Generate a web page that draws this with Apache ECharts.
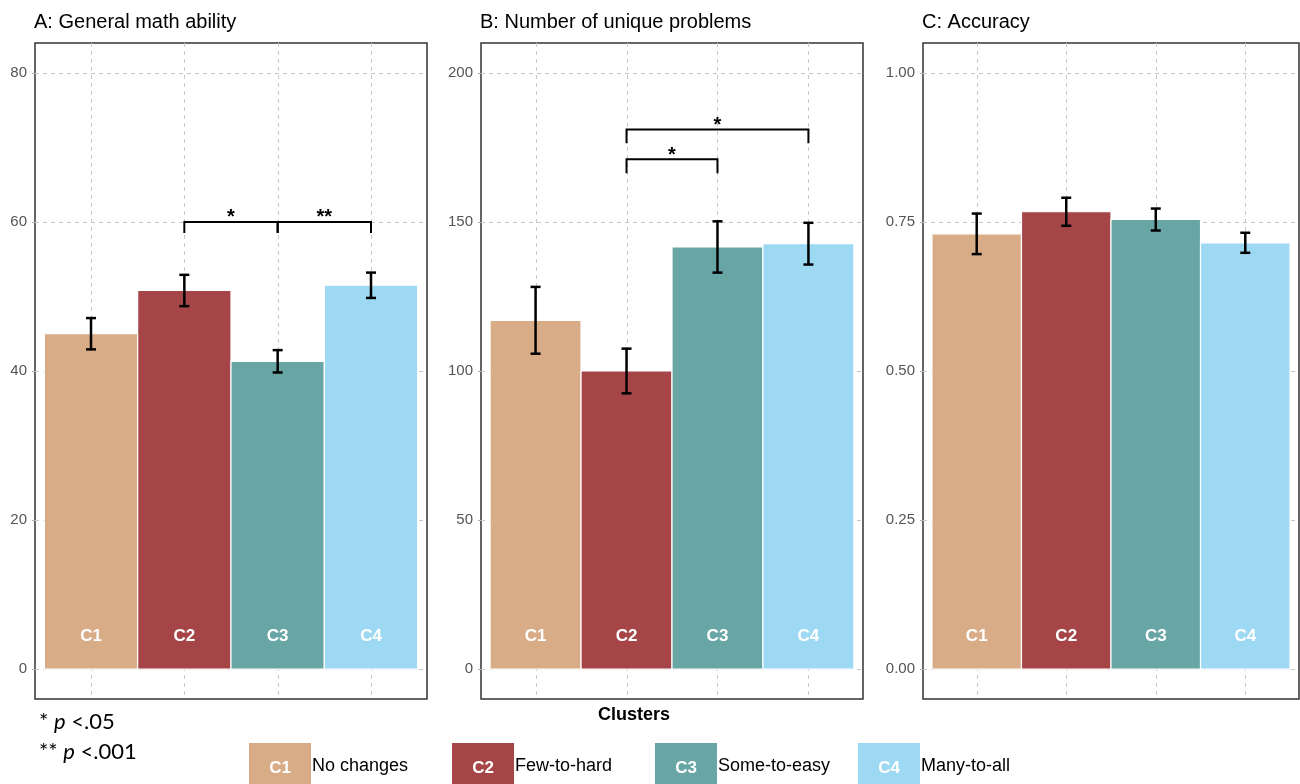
<!DOCTYPE html>
<html>
<head>
<meta charset="utf-8">
<script src="https://cdn.jsdelivr.net/npm/echarts@6/dist/echarts.min.js"></script>
<style>
  html, body { margin: 0; padding: 0; background: #fff; }
  #chart { width: 1300px; height: 784px; }
</style>
</head>
<body>
<div id="chart"></div>
<script>
// Cluster definitions
const clusters = ['C1', 'C2', 'C3', 'C4'];
const clusterNames = ['No changes', 'Few-to-hard', 'Some-to-easy', 'Many-to-all'];
const clusterColors = ['#D9AC88', '#A54548', '#67A6A4', '#9DD9F2'];

// A: general math ability (mean and standard error per cluster)
const mathMean = [45.0, 50.8, 41.3, 51.5];
const mathSE = [2.1, 2.1, 1.5, 1.7];
const mathTicks = [0, 20, 40, 60, 80];

// B: number of unique problems
const problemsMean = [117.0, 100.0, 141.6, 142.7];
const problemsSE = [11.2, 7.5, 8.6, 7.0];
const problemsTicks = [0, 50, 100, 150, 200];

// C: accuracy
const accuracyMean = [0.730, 0.767, 0.754, 0.715];
const accuracySE = [0.034, 0.0235, 0.0184, 0.0168];
const accuracyTicks = [0, 0.25, 0.5, 0.75, 1.0];

// Significance brackets: [from cluster index, to cluster index, bracket level, leg end, label]
const mathBrackets = [[1, 2, 60, 58.5, '*'], [2, 3, 60, 58.5, '**']];
const problemsBrackets = [[1, 3, 181, 176.4, '*'], [1, 2, 171, 166.3, '*']];
const accuracyBrackets = [];

const FONT = '"Liberation Sans", Arial, sans-serif';

const panels = [
  { title: 'A: General math ability', mean: mathMean, se: mathSE, ticks: mathTicks,
    fmt: v => String(v), brackets: mathBrackets, left: 35, width: 392 },
  { title: 'B: Number of unique problems', mean: problemsMean, se: problemsSE, ticks: problemsTicks,
    fmt: v => String(v), brackets: problemsBrackets, left: 481, width: 382 },
  { title: 'C: Accuracy', mean: accuracyMean, se: accuracySE, ticks: accuracyTicks,
    fmt: v => v.toFixed(2), brackets: accuracyBrackets, left: 923, width: 376 }
];

const GRID_TOP = 43;
const GRID_HEIGHT = 656;

const crisp = v => Math.round(v) + 0.5;

function renderGridLines(p) {
  return function (params, api) {
    const cs = params.coordSys;
    const style = { stroke: '#c8c8c8', lineWidth: 1, lineDash: [4, 4] };
    const children = [];
    p.ticks.forEach(t => {
      const y = crisp(api.coord([1, t])[1]);
      children.push({ type: 'line', shape: { x1: cs.x, y1: y, x2: cs.x + cs.width, y2: y }, style });
    });
    clusters.forEach((c, i) => {
      const x = crisp(api.coord([i + 1, 0])[0]);
      children.push({ type: 'line', shape: { x1: x, y1: cs.y, x2: x, y2: cs.y + cs.height }, style });
    });
    return { type: 'group', children };
  };
}

function renderBar(params, api) {
  const x = api.value(0);
  const v = api.value(1);
  const idx = api.value(2);
  const p0 = api.coord([x - 0.5, 0]);
  const p1 = api.coord([x + 0.5, v]);
  return {
    type: 'group',
    children: [
      {
        type: 'rect',
        shape: { x: p0[0], y: p1[1], width: p1[0] - p0[0], height: p0[1] - p1[1] },
        style: { fill: clusterColors[idx], stroke: '#ffffff', lineWidth: 1.2 }
      },
      {
        type: 'text',
        style: {
          x: (p0[0] + p1[0]) / 2, y: p0[1] - 33, text: clusters[idx],
          fill: '#ffffff', font: 'bold 17px ' + FONT, align: 'center', verticalAlign: 'middle'
        }
      }
    ]
  };
}

function renderErrorBar(params, api) {
  const x = api.value(0);
  const lo = api.coord([x, api.value(1)]);
  const hi = api.coord([x, api.value(2)]);
  const cap = 5;
  const style = { stroke: '#000', lineWidth: 2.5 };
  return {
    type: 'group',
    children: [
      { type: 'line', shape: { x1: lo[0], y1: lo[1], x2: hi[0], y2: hi[1] }, style },
      { type: 'line', shape: { x1: lo[0] - cap, y1: lo[1], x2: lo[0] + cap, y2: lo[1] }, style },
      { type: 'line', shape: { x1: hi[0] - cap, y1: hi[1], x2: hi[0] + cap, y2: hi[1] }, style }
    ]
  };
}

function renderBracket(brackets) {
  return function (params, api) {
    const a = api.value(0), b = api.value(1), level = api.value(2), leg = api.value(3);
    const label = brackets[params.dataIndex][4];
    const pa = api.coord([a, level]);
    const pb = api.coord([b, level]);
    const legY = api.coord([a, leg])[1];
    return {
      type: 'group',
      children: [
        {
          type: 'polyline',
          shape: { points: [[pa[0], legY], [pa[0], pa[1]], [pb[0], pb[1]], [pb[0], legY]] },
          style: { stroke: '#000', lineWidth: 2, fill: null }
        },
        {
          type: 'text',
          style: {
            x: (pa[0] + pb[0]) / 2, y: pa[1] - 4, text: label,
            fill: '#000', font: 'bold 20px ' + FONT, align: 'center', verticalAlign: 'middle'
          }
        }
      ]
    };
  };
}

const grid = [], xAxis = [], yAxis = [], series = [], title = [];

panels.forEach((p, k) => {
  const top = p.ticks[p.ticks.length - 1];
  grid.push({
    left: p.left, width: p.width, top: GRID_TOP, height: GRID_HEIGHT,
    show: true, borderColor: '#333', borderWidth: 1.5, backgroundColor: 'transparent'
  });
  xAxis.push({ gridIndex: k, type: 'value', min: 0.4, max: 4.6, show: false });
  yAxis.push({
    gridIndex: k, type: 'value', min: -0.05 * top, max: 1.05 * top,
    axisLine: { show: false },
    splitLine: { show: false },
    axisTick: { show: true, customValues: p.ticks, length: 3, lineStyle: { color: '#aaa' } },
    axisLabel: {
      customValues: p.ticks, formatter: v => p.fmt(v),
      color: '#555', fontSize: 15, fontFamily: FONT, margin: 8
    }
  });
  title.push({
    text: p.title, left: p.left - 1, top: 12, padding: 0,
    textStyle: { fontSize: 20, fontWeight: 'normal', color: '#000', fontFamily: FONT }
  });
  series.push({
    type: 'custom', xAxisIndex: k, yAxisIndex: k, silent: true, z: 1,
    data: [[1, 0]], renderItem: renderGridLines(p)
  });
  series.push({
    type: 'custom', xAxisIndex: k, yAxisIndex: k, silent: true, z: 2,
    data: p.mean.map((v, i) => [i + 1, v, i]), renderItem: renderBar
  });
  series.push({
    type: 'custom', xAxisIndex: k, yAxisIndex: k, silent: true, z: 3,
    data: p.mean.map((v, i) => [i + 1, v - p.se[i], v + p.se[i]]), renderItem: renderErrorBar
  });
  if (p.brackets.length) {
    series.push({
      type: 'custom', xAxisIndex: k, yAxisIndex: k, silent: true, z: 4,
      data: p.brackets.map(b => [b[0] + 1, b[1] + 1, b[2], b[3]]),
      renderItem: renderBracket(p.brackets)
    });
  }
});

// Legend swatches with cluster codes, and footnotes
const graphic = [];
clusters.forEach((c, i) => {
  const x = 249 + i * 203;
  graphic.push({ type: 'rect', left: x, top: 743, shape: { width: 62, height: 45 }, style: { fill: clusterColors[i] } });
  graphic.push({ type: 'text', x: x + 31, y: 768, style: { text: c, fill: '#fff', font: 'bold 17px ' + FONT, align: 'center', verticalAlign: 'middle' } });
  graphic.push({ type: 'text', x: x + 63, y: 766, style: { text: clusterNames[i], fill: '#000', font: '18px ' + FONT, align: 'left', verticalAlign: 'middle' } });
});
graphic.push({
  type: 'text', x: 634, y: 715,
  style: { text: 'Clusters', fill: '#000', font: 'bold 18px ' + FONT, align: 'center', verticalAlign: 'middle' }
});
graphic.push({
  type: 'text', x: 39, y: 722,
  style: {
    text: '* {i|p} <.05', fill: '#000', font: '22px Lato, sans-serif', verticalAlign: 'middle',
    rich: { i: { fontStyle: 'italic', fontSize: 22, fontFamily: 'Lato, sans-serif' } }
  }
});
graphic.push({
  type: 'text', x: 39, y: 752,
  style: {
    text: '** {i|p} <.001', fill: '#000', font: '22px Lato, sans-serif', verticalAlign: 'middle',
    rich: { i: { fontStyle: 'italic', fontSize: 22, fontFamily: 'Lato, sans-serif' } }
  }
});

const chart = echarts.init(document.getElementById('chart'), null, { renderer: 'canvas' });
chart.setOption({
  animation: false,
  backgroundColor: '#fff',
  title, grid, xAxis, yAxis, series, graphic
});
</script>
</body>
</html>
